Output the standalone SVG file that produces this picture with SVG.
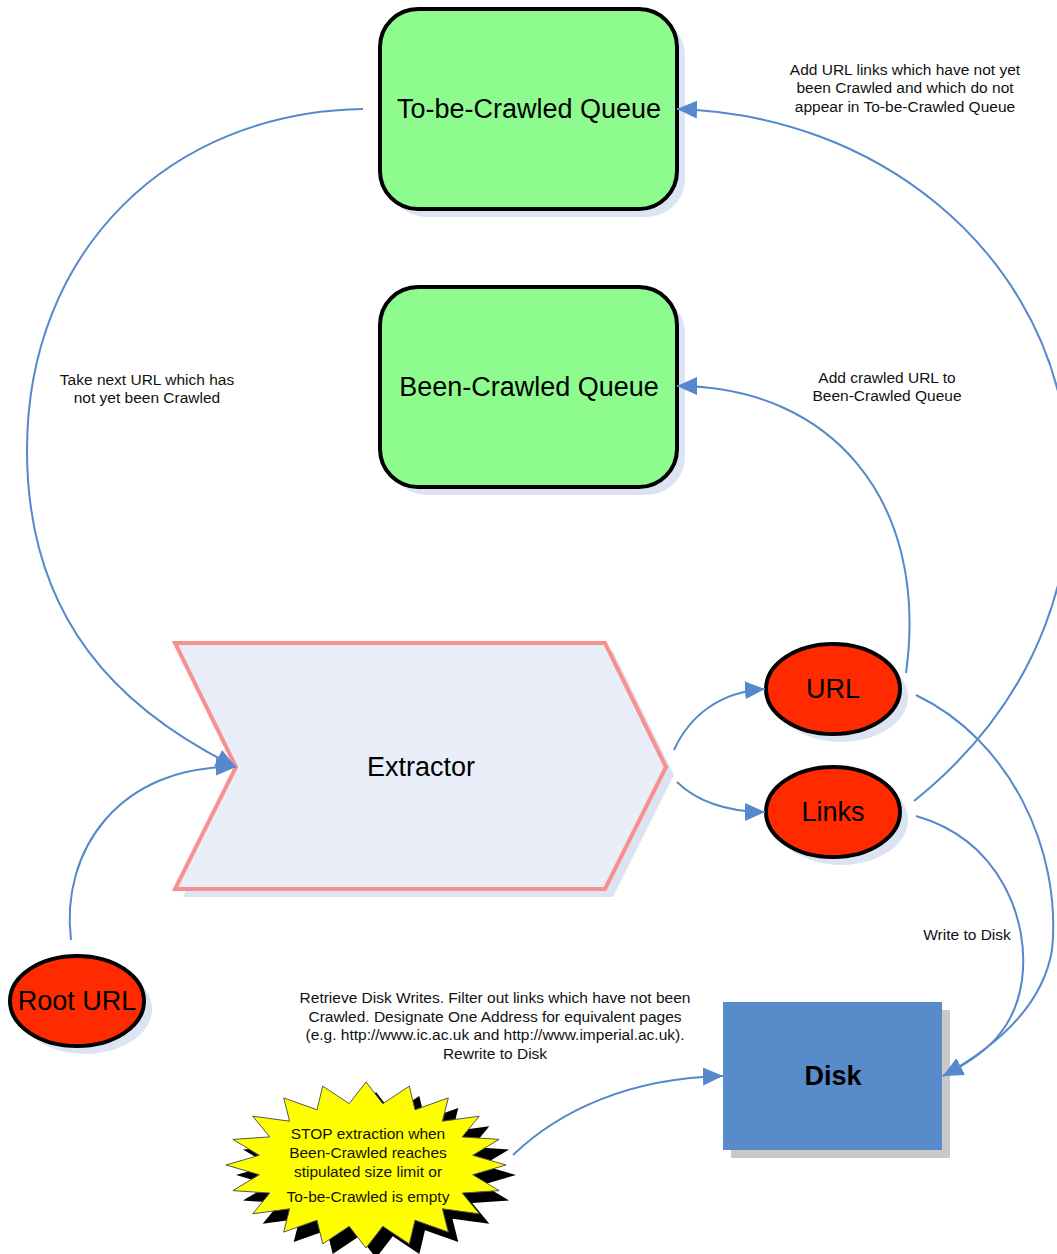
<svg xmlns="http://www.w3.org/2000/svg" width="1057" height="1254" viewBox="0 0 1057 1254">
<style>
.conn{fill:none;stroke:#5588CC;stroke-width:2}
.lbl{font-family:"Liberation Sans",Arial,sans-serif;font-size:15.5px;fill:#111;text-anchor:middle}
.big{font-family:"Liberation Sans",Arial,sans-serif;font-size:27px;fill:#000;text-anchor:middle;dominant-baseline:central}
.queue{fill:#8EFB8E;stroke:#000;stroke-width:4}
.sh{fill:#DCE3F2}
.oval{fill:#FF2A00;stroke:#000;stroke-width:4}
</style>
<defs>
<marker id="arr" markerUnits="userSpaceOnUse" markerWidth="22" markerHeight="20" refX="20" refY="9" orient="auto">
<path d="M0,0 L20,9 L0,18 Z" fill="#5588CC"/>
</marker>
</defs>
<rect width="1057" height="1254" fill="#fff"/>

<g id="tobecrawled">
<rect class="sh" x="388" y="17" width="297" height="200" rx="38"/>
<rect class="queue" x="380" y="9" width="297" height="200" rx="38"/>
<text class="big" x="529" y="109">To-be-Crawled Queue</text>
</g>

<g id="beencrawled">
<rect class="sh" x="388" y="295" width="297" height="200" rx="38"/>
<rect class="queue" x="380" y="287" width="297" height="200" rx="38"/>
<text class="big" x="529" y="387">Been-Crawled Queue</text>
</g>

<g id="extractor">
<polygon class="sh" points="183,651 613,651 674,775 613,897 183,897 244,775"/>
<polygon points="175,643 605,643 666,767 605,889 175,889 236,767" fill="#E8EDF7" stroke="#F99090" stroke-width="4"/>
<text class="big" x="421" y="767">Extractor</text>
</g>

<g id="url">
<ellipse class="sh" cx="841" cy="697" rx="67" ry="45"/>
<ellipse class="oval" cx="833" cy="689" rx="67" ry="45"/>
<text class="big" x="833" y="689">URL</text>
</g>

<g id="links">
<ellipse class="sh" cx="841" cy="820" rx="67" ry="45"/>
<ellipse class="oval" cx="833" cy="812" rx="67" ry="45"/>
<text class="big" x="833" y="812">Links</text>
</g>

<g id="rooturl">
<ellipse class="sh" cx="85" cy="1009" rx="67" ry="45"/>
<ellipse class="oval" cx="77" cy="1001" rx="67" ry="45"/>
<text class="big" x="77" y="1001">Root URL</text>
</g>

<g id="disk">
<rect x="731" y="1010" width="219" height="148" fill="#C8C8C8"/>
<rect x="723" y="1002" width="219" height="148" fill="#588BCA"/>
<text class="big" x="833" y="1076" font-weight="bold">Disk</text>
</g>

<g id="stop">
<polygon transform="translate(10,10)" fill="#000" points="506,1165 472.7,1174.7 499.1,1190.6 462.2,1193.1 479.3,1213.8 442.4,1208.8 448.3,1232.1 415,1220.2 409.3,1243.9 382.8,1226.3 366,1248 349.2,1226.3 322.7,1243.9 317,1220.2 283.7,1232.1 289.6,1208.8 252.7,1213.8 269.8,1193.1 232.9,1190.6 259.3,1174.7 226,1165 259.3,1155.3 232.9,1139.4 269.8,1136.9 252.7,1116.2 289.6,1121.2 283.7,1097.9 317,1109.8 322.7,1086.1 349.2,1103.7 366,1082 382.8,1103.7 409.3,1086.1 415,1109.8 448.3,1097.9 442.4,1121.2 479.3,1116.2 462.2,1136.9 499.1,1139.4 472.7,1155.3"/>
<polygon fill="#FFFF00" stroke="#555" stroke-width="1" points="506,1165 472.7,1174.7 499.1,1190.6 462.2,1193.1 479.3,1213.8 442.4,1208.8 448.3,1232.1 415,1220.2 409.3,1243.9 382.8,1226.3 366,1248 349.2,1226.3 322.7,1243.9 317,1220.2 283.7,1232.1 289.6,1208.8 252.7,1213.8 269.8,1193.1 232.9,1190.6 259.3,1174.7 226,1165 259.3,1155.3 232.9,1139.4 269.8,1136.9 252.7,1116.2 289.6,1121.2 283.7,1097.9 317,1109.8 322.7,1086.1 349.2,1103.7 366,1082 382.8,1103.7 409.3,1086.1 415,1109.8 448.3,1097.9 442.4,1121.2 479.3,1116.2 462.2,1136.9 499.1,1139.4 472.7,1155.3"/>
<text class="lbl" x="368" y="1139">STOP extraction when</text>
<text class="lbl" x="368" y="1158">Been-Crawled reaches</text>
<text class="lbl" x="368" y="1177">stipulated size limit or</text>
<text class="lbl" x="368" y="1202">To-be-Crawled is empty</text>
</g>

<g id="connectors">
<path class="conn" marker-end="url(#arr)" d="M363,109 C170,112 27,250 27,450 C27,620 120,710 236,767"/>
<path class="conn" marker-end="url(#arr)" d="M71,940 C60,850 120,765 236,767"/>
<path class="conn" marker-end="url(#arr)" d="M674,750 C690,715 720,692 765,689"/>
<path class="conn" marker-end="url(#arr)" d="M677,782 C695,800 725,812 765,812"/>
<path class="conn" marker-end="url(#arr)" d="M906,673 C930,500 830,386 677,386"/>
<path class="conn" marker-end="url(#arr)" d="M914,801 C1040,700 1088,560 1064,420 C1036,250 880,115 677,109"/>
<path class="conn" marker-end="url(#arr)" d="M916,695 C1010,740 1062,850 1052,950 C1042,1010 990,1050 943,1076"/>
<path class="conn" marker-end="url(#arr)" d="M916,816 C1000,840 1030,920 1022,980 C1015,1030 985,1055 943,1076"/>
<path class="conn" marker-end="url(#arr)" d="M513,1155 C560,1110 630,1078 723,1076"/>
</g>

<g id="labels">
<text class="lbl" x="905" y="75">Add URL links which have not yet</text>
<text class="lbl" x="905" y="93">been Crawled and which do not</text>
<text class="lbl" x="905" y="112">appear in To-be-Crawled Queue</text>
<text class="lbl" x="887" y="383">Add crawled URL to</text>
<text class="lbl" x="887" y="401">Been-Crawled Queue</text>
<text class="lbl" x="147" y="385">Take next URL which has</text>
<text class="lbl" x="147" y="403">not yet been Crawled</text>
<text class="lbl" x="967" y="940">Write to Disk</text>
<text class="lbl" x="495" y="1003">Retrieve Disk Writes. Filter out links which have not been</text>
<text class="lbl" x="495" y="1022">Crawled. Designate One Address for equivalent pages</text>
<text class="lbl" x="495" y="1040">(e.g. http://www.ic.ac.uk and http://www.imperial.ac.uk).</text>
<text class="lbl" x="495" y="1059">Rewrite to Disk</text>
</g>
</svg>
